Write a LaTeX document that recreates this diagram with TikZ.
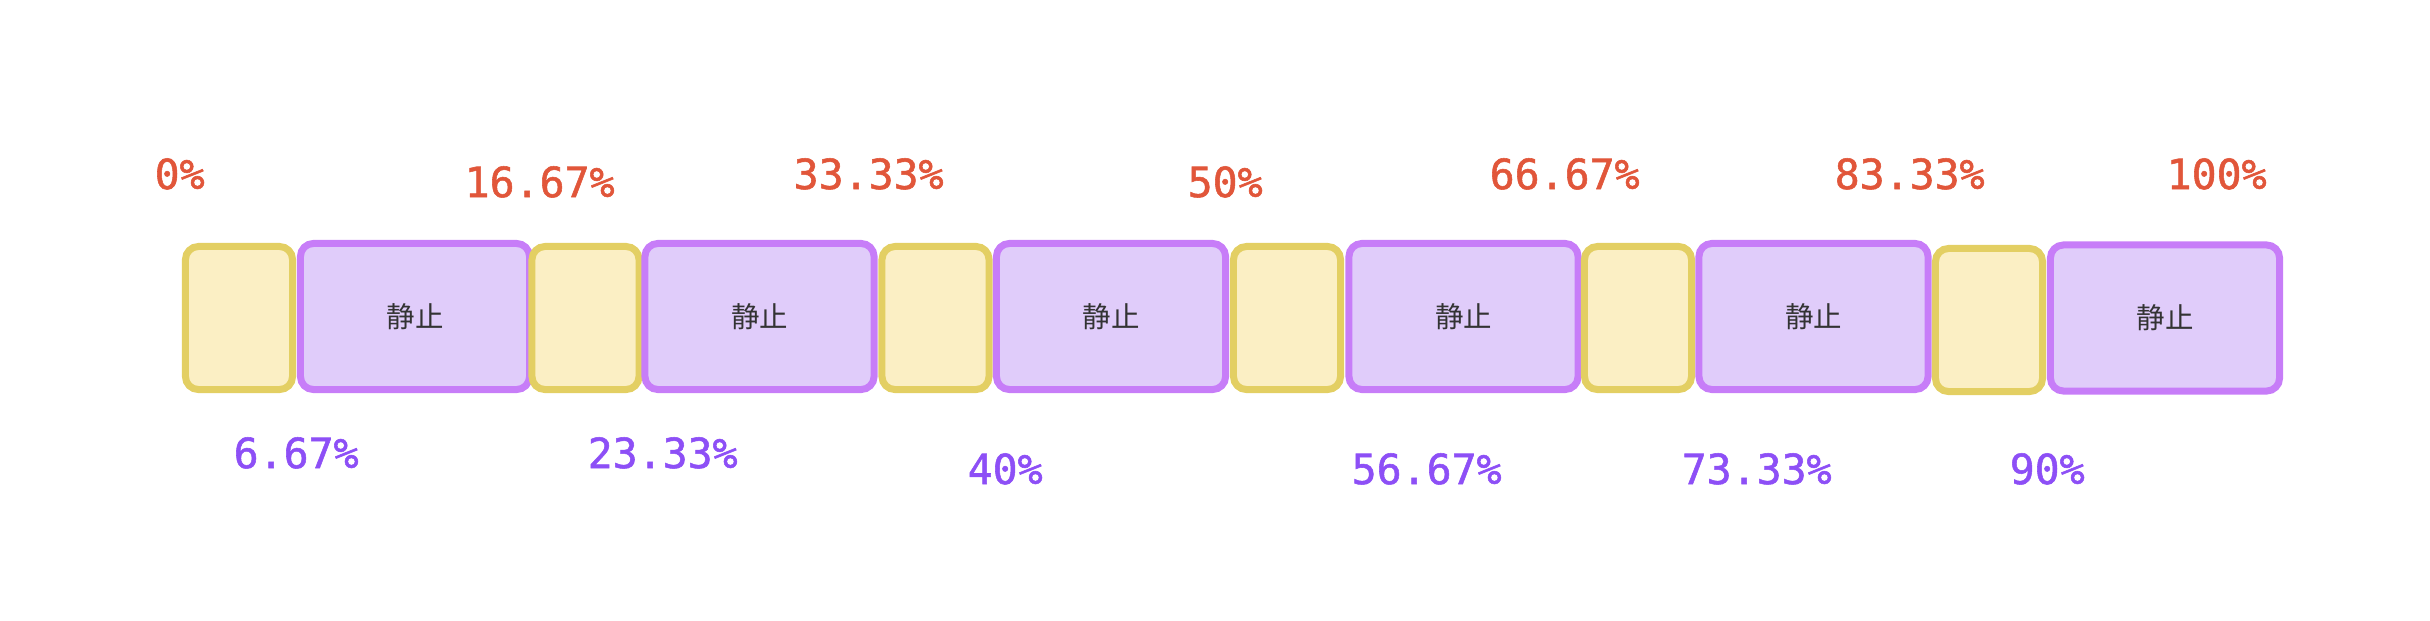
\documentclass[tikz,border=0pt]{standalone}
\usepackage{fontspec}
\newfontfamily\pctfont[FakeBold=1.3]{DejaVu Sans Mono}
\newfontfamily\cjkfont{Noto Sans CJK SC}
\definecolor{tweenline}{HTML}{E3CF63}
\definecolor{tweenfill}{HTML}{FBEFC4}
\definecolor{stillline}{HTML}{C77DF8}
\definecolor{stillfill}{HTML}{E0CCFA}
\definecolor{toppct}{HTML}{E1563A}
\definecolor{botpct}{HTML}{8D4FF6}
\definecolor{stilltext}{HTML}{333333}
\tikzset{
  tween/.style={draw=tweenline, fill=tweenfill, line width=0.07cm, rounded corners=0.13cm,
    minimum width=1.07cm, minimum height=1.43cm, inner sep=0},
  still/.style={draw=stillline, fill=stillfill, line width=0.07cm, rounded corners=0.13cm,
    minimum width=2.29cm, minimum height=1.46cm, inner sep=0,
    font=\cjkfont\fontsize{8.1}{10}\selectfont, text=stilltext},
  toplbl/.style={anchor=base west, inner sep=0, text=toppct, font=\pctfont\fontsize{11.8}{14}\selectfont},
  botlbl/.style={anchor=base west, inner sep=0, text=botpct, font=\pctfont\fontsize{11.8}{14}\selectfont}
}
\begin{document}
\begin{tikzpicture}[x=0.01cm, y=-0.01cm]
      \useasboundingbox (0, 0) rectangle (2430, 620);

      \node[tween] (y1) at (239, 318) {};
      \node[still] (s1) at (415, 316.5) {静止};
      \node[tween] (y2) at (585.5, 318) {};
      \node[still] (s2) at (759.5, 316.5) {静止};
      \node[tween] (y3) at (935.5, 318) {};
      \node[still] (s3) at (1111, 316.5) {静止};
      \node[tween] (y4) at (1287, 318) {};
      \node[still] (s4) at (1463.5, 316.5) {静止};
      \node[tween] (y5) at (1638, 318) {};
      \node[still] (s5) at (1813.5, 316.5) {静止};
      \node[tween] (y6) at (1989, 320) {};
      \node[still] (s6) at (2165, 318) {静止};

      \node[toplbl] (t0) at (154, 189) {0\%};
      \node[toplbl] (t1) at (464, 197) {16.67\%};
      \node[toplbl] (t2) at (793, 189) {33.33\%};
      \node[toplbl] (t3) at (1187, 197) {50\%};
      \node[toplbl] (t4) at (1489, 189) {66.67\%};
      \node[toplbl] (t5) at (1834, 189) {83.33\%};
      \node[toplbl] (t6) at (2166, 189) {100\%};

      \node[botlbl] (b1) at (233, 468) {6.67\%};
      \node[botlbl] (b2) at (587, 468) {23.33\%};
      \node[botlbl] (b3) at (967, 484) {40\%};
      \node[botlbl] (b4) at (1351, 484) {56.67\%};
      \node[botlbl] (b5) at (1681, 484) {73.33\%};
      \node[botlbl] (b6) at (2009, 484) {90\%};
\end{tikzpicture}
\end{document}
